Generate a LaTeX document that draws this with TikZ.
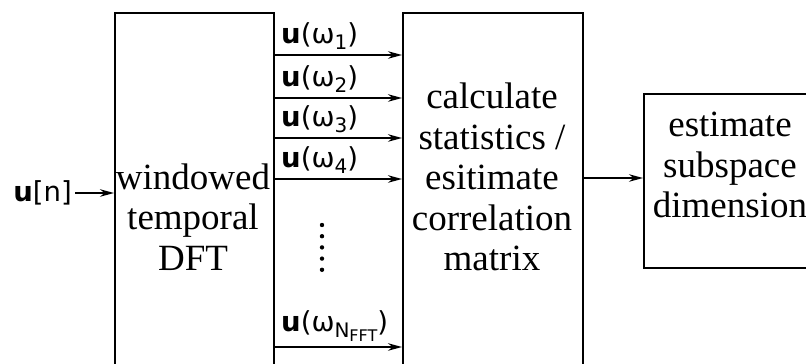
\documentclass[tikz,border=0pt]{standalone}
\usepackage{fontspec}
\setmainfont{Liberation Serif}
\newfontfamily\labfont{DejaVu Sans}
\usetikzlibrary{arrows.meta}
\newcommand{\lsub}[1]{\raisebox{-6pt}{\fontsize{20}{20}\selectfont #1}}
\newcommand{\lsubsub}[1]{\raisebox{-4pt}{\fontsize{16}{16}\selectfont #1}}
\begin{document}
\begin{tikzpicture}[x=1pt,y=-1pt,
  blk/.style={draw,line width=2pt,anchor=north west,inner sep=0pt},
  txt/.style={align=center,font=\fontsize{37}{40.5}\selectfont,inner sep=0pt},
  lab/.style={font=\labfont\fontsize{27.5}{27.5}\selectfont,inner sep=0pt},
  arr/.style={line width=1.6pt,-{Stealth[length=14pt,width=7.5pt]}}]
\useasboundingbox (0,0) rectangle (806,364);
\clip (0,0) rectangle (806,364);
\node[blk,minimum width=159pt,minimum height=400pt] (dft) at (114,12) {};
\node[blk,minimum width=180pt,minimum height=400pt] (stat) at (402,12) {};
\node[blk,minimum width=174pt,minimum height=174pt] (est) at (643,93) {};
\node[txt] (dfttxt) at (193,217) {windowed\\temporal\\DFT};
\node[txt] (stattxt) at (492,177) {calculate\\statistics /\\esitimate\\correlation\\matrix};
\node[txt] (esttxt) at (730,165) {estimate\\subspace\\dimension};
% input
\coordinate (in) at (75,193);
\node[lab,anchor=east] (inlab) at (72,193) {\textbf{u}[n]};
\draw[arr] (in) -- (dft.west |- in);
% frequency arrows
\foreach \i/\y/\s in {1/55/1,2/98/2,3/138/3,4/179/4}{
  \coordinate (a\i) at (273,\y);
  \draw[arr] (a\i) -- (stat.west |- a\i);
  \node[lab,anchor=south west] (l\i) at (281,\y-5) {\textbf{u}(ω\lsub{\s})};
}
\coordinate (a5) at (273,347);
\draw[arr] (a5) -- (stat.west |- a5);
\node[lab,anchor=south west] (l5) at (281,342) {\textbf{u}(ω\lsub{N\lsubsub{FFT}})};
\foreach \k in {0,...,4}{
  \fill (322,225+11.2*\k) circle (2.2pt);
}
% output
\coordinate (o) at (582,178);
\draw[arr] (o) -- (est.west |- o);
\end{tikzpicture}
\end{document}
